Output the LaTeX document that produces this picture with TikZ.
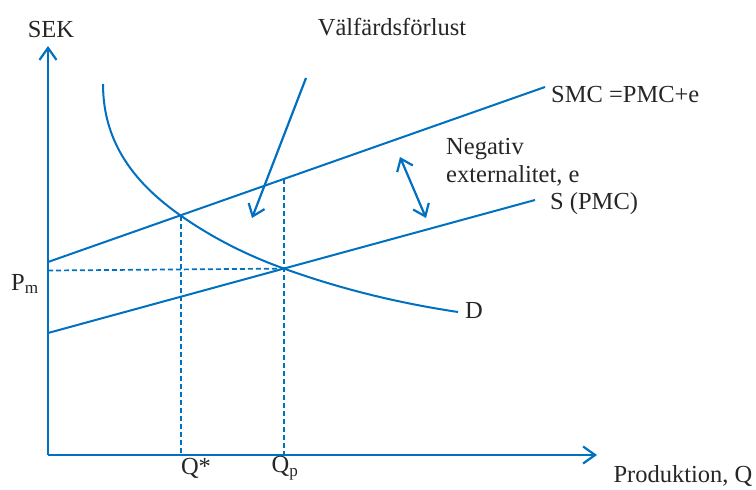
\documentclass[tikz,border=0pt]{standalone}
\usepackage{fontspec}
\setmainfont{Liberation Serif}
\usetikzlibrary{arrows.meta}
\definecolor{econblue}{RGB}{0,112,192}
\begin{document}
\begin{tikzpicture}[x=1pt,y=-1pt,
  axis/.style={draw=econblue,line width=2.6pt,-{Straight Barb[length=12pt,width=17pt,line width=2.2pt]}},
  curve/.style={draw=econblue,line width=2pt},
  guide/.style={draw=econblue,line width=1.7pt,dash pattern=on 5pt off 3pt},
  pointer/.style={draw=econblue,line width=2.2pt,-{Straight Barb[length=11pt,width=17pt,line width=2.2pt]}},
  lbl/.style={font=\fontsize{24.5}{28}\selectfont,text=black!85,inner sep=0pt}]
\useasboundingbox (0,0) rectangle (756,490);
% key points
\coordinate (O) at (48,455);
\coordinate (ytop) at (48,46);
\coordinate (xend) at (597,455);
\coordinate (smcA) at (48,262);
\coordinate (smcB) at (545,87);
\coordinate (sA) at (48,333);
\coordinate (sB) at (535,200);
\coordinate (dA) at (103,84);
\coordinate (dB) at (458,312);
\coordinate (eq1) at (181,215.8);
\coordinate (eq2) at (284,268.6);
\coordinate (smcQp) at (284,179);
\coordinate (qs) at (181,455);
\coordinate (qp) at (284,455);
\coordinate (pm) at (48,270.5);
\coordinate (vfA) at (306,78);
\coordinate (vfB) at (252,218);
\coordinate (exA) at (400,157);
\coordinate (exB) at (426,218);
% axes
\draw[axis] (O) -- (ytop);
\draw[axis] (O) -- (xend);
% curves
\draw[curve] (smcA) -- (smcB);
\draw[curve] (sA) -- (sB);
\draw[curve] (dA) .. controls (103,144) and (136,184.3) .. (eq1)
  .. controls (215,239.6) and (250,256.4) .. (eq2)
  .. controls (342,289.5) and (400,303.3) .. (dB);
% guides
\draw[guide] (pm) -- (eq2);
\draw[guide] (eq1) -- (qs);
\draw[guide] (smcQp) -- (qp);
% arrows
\draw[pointer] (vfA) -- (vfB);
\draw[draw=econblue,line width=2.2pt,{Straight Barb[length=11pt,width=17pt,line width=2.2pt]}-{Straight Barb[length=11pt,width=17pt,line width=2.2pt]}] (exA) -- (exB);
% labels
\node[lbl] (sek) at (51,30) {SEK};
\node[lbl] (vf) at (392,27) {Välfärdsförlust};
\node[lbl,anchor=west] (smc) at (551,95) {SMC =PMC+e};
\node[lbl,anchor=west] (neg) at (446,149) {Negativ};
\node[lbl,anchor=west] (ext) at (446,176) {externalitet, e};
\node[lbl,anchor=west] (s) at (550,204) {S (PMC)};
\node[lbl,anchor=west] (pmlbl) at (11,284) {P\textsubscript{m}};
\node[lbl,anchor=west] (d) at (465,310) {D};
\node[lbl] (qslbl) at (196,468) {Q*};
\node[lbl] (qplbl) at (285,468) {Q\textsubscript{p}};
\node[lbl] (prod) at (683,476) {Produktion, Q};
\end{tikzpicture}
\end{document}
